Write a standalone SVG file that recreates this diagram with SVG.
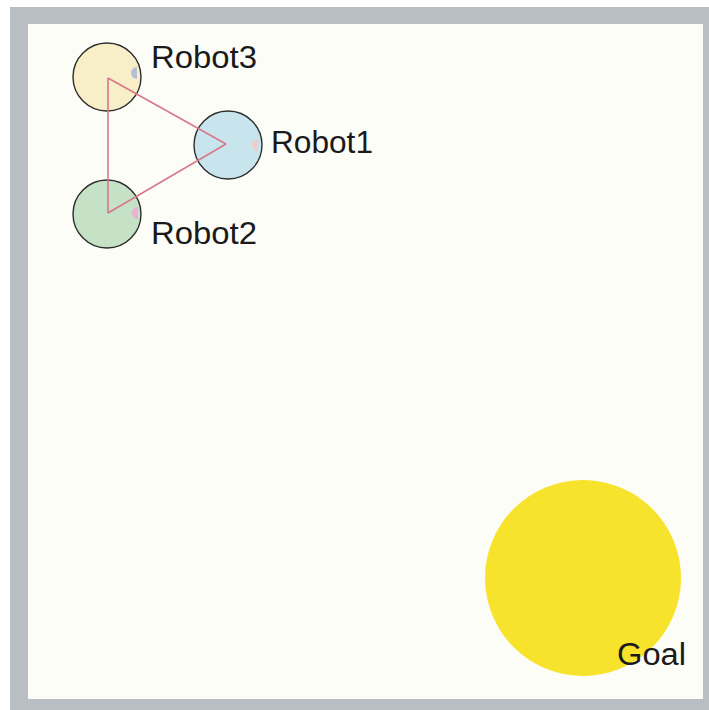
<svg xmlns="http://www.w3.org/2000/svg" width="709" height="710" viewBox="0 0 709 710">
<style>
.robot{stroke:#2d2d2d;stroke-width:1.4}
.lbl{font-family:"Liberation Sans",Arial,sans-serif;font-size:31px;fill:#1a1a1a}
.link{stroke:#d9778a;stroke-width:1.6;fill:none}
</style>
<rect x="0" y="0" width="709" height="710" fill="#ffffff"/>
<rect x="10" y="7" width="699" height="703" fill="#b8bec3"/>
<rect x="28" y="24" width="675" height="675" fill="#fdfdf8"/>
<g id="goal">
<circle cx="583" cy="578" r="98" fill="#f8e32c"/>
<text class="lbl" x="617" y="665" font-size="32" textLength="69" lengthAdjust="spacingAndGlyphs">Goal</text>
</g>
<g id="robot3">
<circle class="robot" cx="107" cy="77" r="34" fill="#f8efc9"/>
<path d="M141,71 A6,6 0 0 0 141,83 Z" fill="#b4bfd6" transform="translate(-4,-4)"/>
<text class="lbl" x="151" y="68" textLength="106" lengthAdjust="spacingAndGlyphs">Robot3</text>
</g>
<g id="robot1">
<circle class="robot" cx="228" cy="145" r="34" fill="#c8e5ee"/>
<path d="M262,139 A6,6 0 0 0 262,151 Z" fill="#f2cccc" transform="translate(-4,0)"/>
<text class="lbl" x="271" y="153" textLength="102" lengthAdjust="spacingAndGlyphs">Robot1</text>
</g>
<g id="robot2">
<circle class="robot" cx="107" cy="214" r="34" fill="#c5e1c6"/>
<path d="M141,208 A6,6 0 0 0 141,220 Z" fill="#eab0d8" transform="translate(-3,-1)"/>
<text class="lbl" x="151" y="244" textLength="106" lengthAdjust="spacingAndGlyphs">Robot2</text>
</g>
<g id="connectors">
<line class="link" x1="108" y1="78" x2="226" y2="144"/>
<line class="link" x1="226" y1="144" x2="108" y2="213"/>
<line class="link" x1="108" y1="213" x2="108" y2="78"/>
</g>
</svg>
